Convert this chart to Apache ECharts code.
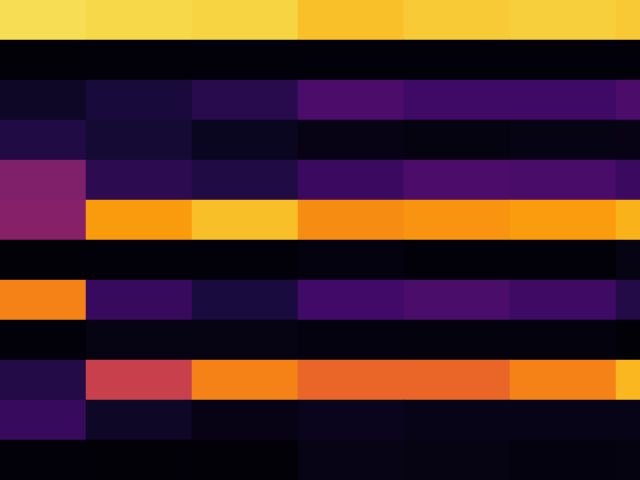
<!DOCTYPE html>
<html>
<head>
<meta charset="utf-8">
<script src="https://cdn.jsdelivr.net/npm/echarts@6/dist/echarts.min.js"></script>
<style>html,body{margin:0;padding:0;background:#fff}#c{width:640px;height:480px}</style>
</head>
<body>
<div id="c"></div>
<script>
const columns = ['C1','C2','C3','C4','C5','C6','C7'];
const rows = ['R1','R2','R3','R4','R5','R6','R7','R8','R9','R10','R11','R12'];
const row1  = [0.915, 0.902, 0.894, 0.854, 0.874, 0.882, 0.872];
const row2  = [0.008, 0.010, 0.010, 0.010, 0.009, 0.009, 0.011];
const row3  = [0.064, 0.105, 0.140, 0.225, 0.193, 0.193, 0.225];
const row4  = [0.125, 0.090, 0.050, 0.030, 0.025, 0.028, 0.030];
const row5  = [0.354, 0.150, 0.125, 0.183, 0.225, 0.217, 0.183];
const row6  = [0.368, 0.778, 0.852, 0.744, 0.762, 0.780, 0.826];
const row7  = [0.008, 0.010, 0.011, 0.020, 0.010, 0.010, 0.028];
const row8  = [0.722, 0.177, 0.110, 0.200, 0.220, 0.190, 0.127];
const row9  = [0.010, 0.028, 0.028, 0.020, 0.016, 0.016, 0.008];
const row10 = [0.127, 0.533, 0.722, 0.654, 0.654, 0.722, 0.836];
const row11 = [0.177, 0.064, 0.030, 0.045, 0.035, 0.035, 0.035];
const row12 = [0.010, 0.008, 0.007, 0.033, 0.026, 0.020, 0.023];
const rowValues = [row1,row2,row3,row4,row5,row6,row7,row8,row9,row10,row11,row12];
const infernoStops = ['#000004','#160b39','#420a68','#6a176e','#932667','#bc3754','#dd513a','#f37819','#fca50a','#f6d746','#fcffa4'];

const data = [];
rowValues.forEach((r, yi) => r.forEach((v, xi) => data.push([xi, yi, v])));

const chart = echarts.init(document.getElementById('c'));
chart.setOption({
  animation: false,
  grid: {left: -20, top: 0, width: 742, height: 480, outerBoundsMode: 'none', containLabel: false},
  xAxis: {type: 'category', data: columns, show: false},
  yAxis: {type: 'category', data: rows, inverse: true, show: false},
  visualMap: {show: false, min: 0, max: 1, calculable: false, inRange: {color: infernoStops}},
  series: [{type: 'heatmap', data: data, itemStyle: {borderWidth: 0}, emphasis: {disabled: true}}]
});
</script>
</body>
</html>
